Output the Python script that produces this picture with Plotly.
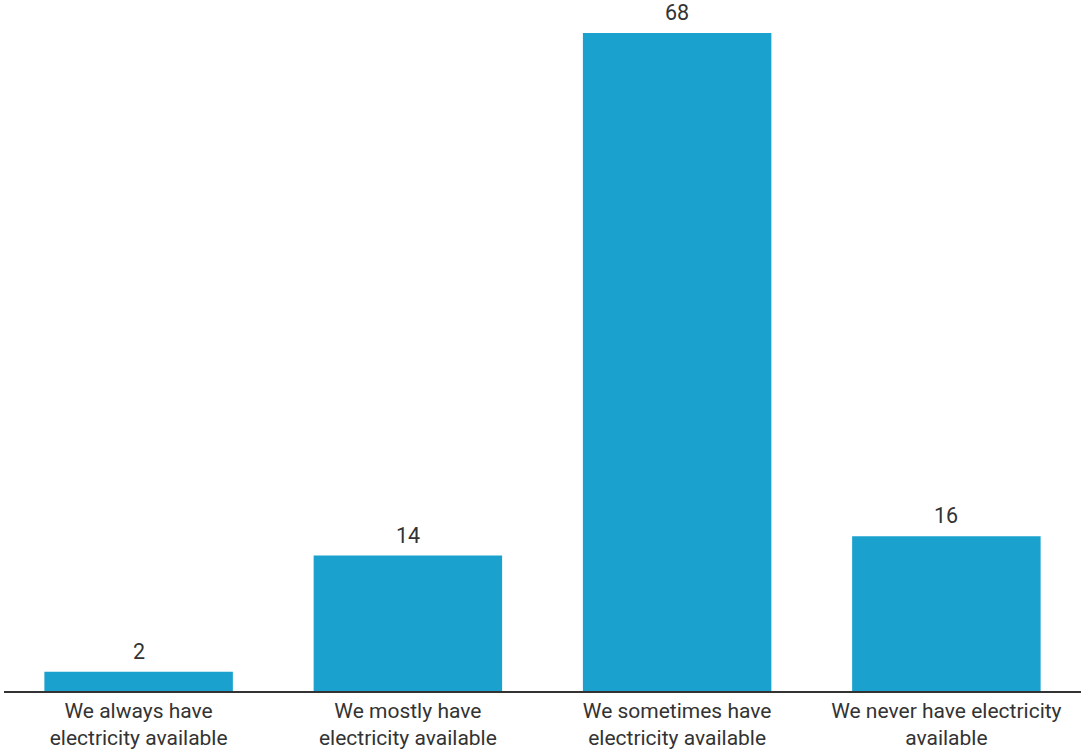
import plotly.graph_objects as go

categories = [
    "We always have<br>electricity available",
    "We mostly have<br>electricity available",
    "We sometimes have<br>electricity available",
    "We never have electricity<br>available",
]
values = [2, 14, 68, 16]

BAR_COLOR = "#1aa1ce"
TEXT_COLOR = "#333333"
FONT_SIZE = 21.5
TICK_SIZE = 21

fig = go.Figure(
    go.Bar(
        x=categories,
        y=values,
        marker=dict(color=BAR_COLOR, line=dict(width=0)),
        hoverinfo="skip",
    )
)

# value labels above each bar
for cat, val in zip(categories, values):
    fig.add_annotation(
        x=cat, y=val, text=str(val), showarrow=False,
        yanchor="bottom", yshift=6,
        font=dict(family="Roboto", size=FONT_SIZE, color=TEXT_COLOR),
    )

fig.update_layout(
    width=1081,
    height=751,
    margin=dict(l=4, r=0, t=33, b=60),
    paper_bgcolor="white",
    plot_bgcolor="white",
    bargap=0.3,
    showlegend=False,
    font=dict(family="Roboto", size=FONT_SIZE, color=TEXT_COLOR),
)
fig.update_xaxes(
    showline=True, linecolor="#333333", linewidth=1.5,
    showgrid=False, ticks="", ticklabelstandoff=0, automargin=False,
    tickfont=dict(family="Roboto", size=TICK_SIZE, color=TEXT_COLOR),
)
fig.update_yaxes(
    range=[0, 68], visible=False, showgrid=False, zeroline=False,
    automargin=False,
)

fig.write_html("out.html")
